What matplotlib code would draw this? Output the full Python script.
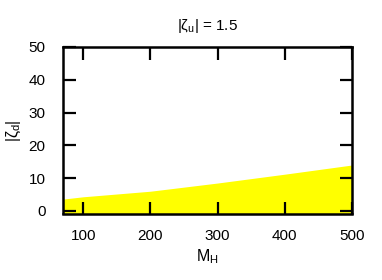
import matplotlib
matplotlib.use("Agg")
import matplotlib.pyplot as plt

plt.rcParams['font.family'] = ['Liberation Sans', 'DejaVu Sans']
plt.rcParams['mathtext.fontset'] = 'custom'
plt.rcParams['mathtext.rm'] = 'Liberation Sans'
plt.rcParams['mathtext.it'] = 'Liberation Sans'

# Boundary of allowed region (|zeta_d| vs M_H)
m_h = [70, 100, 200, 300, 400, 500]
zeta_d_max = [3.6, 4.3, 6.0, 8.5, 11.2, 14.0]
x_ticks = [100, 200, 300, 400, 500]
y_ticks = [0, 10, 20, 30, 40, 50]

fig = plt.figure(figsize=(3.82, 2.80), dpi=100)
ax = fig.add_axes([63/382, 1-213.5/280, (352-63)/382, (213.5-47)/280])

ax.fill_between(m_h, -0.8, zeta_d_max, color='#ffff00', linewidth=0, zorder=1)

ax.set_xlim(70, 500)
ax.set_ylim(-0.8, 50)
ax.set_xticks(x_ticks)
ax.set_yticks(y_ticks)
ax.tick_params(direction='in', length=9, width=1.6, top=True, right=True,
               labelsize=11, colors='black')
ax.tick_params(axis='y', pad=12.5)
ax.tick_params(axis='x', pad=11)
for s in ax.spines.values():
    s.set_linewidth(1.8)
    s.set_zorder(5)

ax.set_title(r'$|\zeta_{\rm u}|$ = 1.5', fontsize=11, pad=12)
ax.set_xlabel(r'M$_{\rm H}$', fontsize=11.5, labelpad=3)
ax.set_ylabel(r'$|\zeta_{\rm d}|$', fontsize=11.5, labelpad=4)

fig.savefig('out.png', dpi=100)
